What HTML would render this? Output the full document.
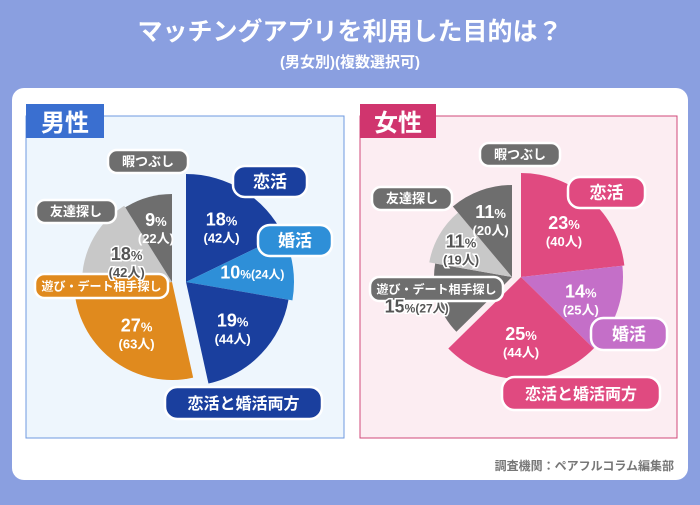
<!DOCTYPE html>
<html><head><meta charset="utf-8">
<style>
html,body{margin:0;padding:0}
body{width:700px;height:500px;background:#8a9fe0;font-family:"Liberation Sans","Noto Sans CJK JP",sans-serif;overflow:hidden}
svg text{font-family:"Liberation Sans","Noto Sans CJK JP",sans-serif;font-weight:bold}
</style></head>
<body>
<svg id="chart" width="700" height="500" viewBox="0 0 700 500" xmlns="http://www.w3.org/2000/svg">
<text x="350" y="40" text-anchor="middle" font-size="25" fill="#fff">マッチングアプリを利用した目的は？</text>
<text x="350" y="67" text-anchor="middle" font-size="15" fill="#fff">(男女別)(複数選択可)</text>
<rect x="12" y="88" width="676" height="392" rx="12" fill="#fff"/>
<rect x="26" y="116" width="318" height="322" fill="#eef6fd" stroke="#6f9ae0" stroke-width="1"/>
<rect x="26" y="104" width="78" height="34" fill="#3a6fd0"/>
<text x="65" y="131" text-anchor="middle" font-size="24" fill="#fff">男性</text>
<rect x="360" y="116" width="317" height="322" fill="#fcedf2" stroke="#d0497a" stroke-width="1"/>
<rect x="360" y="104" width="76" height="34" fill="#d0356e"/>
<text x="398" y="131" text-anchor="middle" font-size="24" fill="#fff">女性</text>
<text x="674" y="470" text-anchor="end" font-size="12" fill="#777">調査機関：ペアフルコラム編集部</text>
<g id="pies"></g>
<g id="pills"></g>
<g id="labels"></g>
</svg>
<script>
const categories = ['恋活','婚活','恋活と婚活両方','遊び・デート相手探し','友達探し','暇つぶし'];
const maleValues = [18,10,19,27,18,9];
const maleCounts = [42,24,44,63,42,22];
const femaleValues = [23,14,25,15,11,11];
const femaleCounts = [40,25,44,27,19,20];
const maleColors = ['#1a3f9e','#2e8fd8','#1a3f9e','#e08a1e','#c8c8c8','#6e6e6e'];
const femaleColors = ['#e04a80','#c46fc8','#e04a80','#6e6e6e','#c8c8c8','#6e6e6e'];
const maleRadii = [108,108,104,98,90,88];
const femaleRadii = [104,102,102,78,84,92];
const maleShift = [0,0,0,-14,-14,-14];
const femaleShift = [0,0,0,-9,-9,-9];
const maleLabelFactor = [0.62,0.62,0.62,0.62,0.56,0.66];
const femaleLabelFactor = [0.62,0.62,0.62,1.28,0.7,0.68];
const maleInline = [false,true,false,false,false,false];
const femaleInline = [false,false,false,true,false,false];
const NS='http://www.w3.org/2000/svg';
const pies=document.getElementById('pies');
const labels=document.getElementById('labels');
function mk(tag,attrs,parent){const e=document.createElementNS(NS,tag);for(const k in attrs)e.setAttribute(k,attrs[k]);parent.appendChild(e);return e;}
function drawPie(prefix,cx0,cy,values,counts,colors,radii,shift,lf,inline){
  const total=values.reduce((a,b)=>a+b,0);
  let a0=0;
  values.forEach((v,i)=>{
    const cx=cx0+shift[i];
    const a1=a0+v/total*2*Math.PI, r=radii[i];
    const x0=cx+r*Math.sin(a0),y0=cy-r*Math.cos(a0),x1=cx+r*Math.sin(a1),y1=cy-r*Math.cos(a1);
    const p=mk('path',{d:`M${cx},${cy}L${x0},${y0}A${r},${r} 0 ${a1-a0>Math.PI?1:0} 1 ${x1},${y1}Z`,fill:colors[i]},pies);
    
    
    const am=(a0+a1)/2, lr=r*lf[i], lx=cx+lr*Math.sin(am), ly=cy-lr*Math.cos(am);
    const light=colors[i]==='#c8c8c8'||(prefix==='female'&&i===3);
    const tc=light?'#555':'#fff';
    const st=light?{stroke:'#fff','stroke-width':3,'paint-order':'stroke'}:{};
    const t=mk('text',Object.assign({x:lx,y:ly,'text-anchor':'middle',fill:tc,'font-size':18},st),labels);
    
    
    if(inline[i]){
      t.setAttribute('y',ly+6);
      t.innerHTML=v+'<tspan font-size="12">%('+counts[i]+'人)</tspan>';
    } else {
      t.innerHTML=v+'<tspan font-size="13">%</tspan>';
      const t2=mk('text',Object.assign({x:lx,y:ly+17,'text-anchor':'middle',fill:tc,'font-size':13},st),labels);
      
      
      t2.textContent='('+counts[i]+'人)';
    }
    a0=a1;
  });
}
drawPie('male',186,282,maleValues,maleCounts,maleColors,maleRadii,maleShift,maleLabelFactor,maleInline);
drawPie('female',521,277,femaleValues,femaleCounts,femaleColors,femaleRadii,femaleShift,femaleLabelFactor,femaleInline);
const pills=document.getElementById('pills');
function pill(name,x,y,w,h,fill,txt,fs){
  const g=mk('g',{},pills);
  
  
  mk('rect',{x:x,y:y,width:w,height:h,rx:h/2.6,fill:fill,stroke:'#fff','stroke-width':2.5},g);
  const t=mk('text',{x:x+w/2,y:y+h/2+fs*0.36,'text-anchor':'middle','font-size':fs,fill:'#fff'},g);
  t.textContent=txt;
}
pill('male-legend-himatsubushi',108,150,80,23,'#6e6e6e','暇つぶし',13);
pill('male-legend-koikatsu',233,166,74,31,'#1a3f9e','恋活',17);
pill('male-legend-konkatsu',258,225,74,31,'#2e8fd8','婚活',17);
pill('male-legend-tomodachi',36,200,80,23,'#6e6e6e','友達探し',13);
pill('male-legend-asobi',35,274,133,24,'#e08a1e','遊び・デート相手探し',12);
pill('male-legend-both',165,387,157,32,'#1a3f9e','恋活と婚活両方',16);
pill('female-legend-himatsubushi',480,143,80,23,'#6e6e6e','暇つぶし',13);
pill('female-legend-koikatsu',568,177,77,31,'#e04a80','恋活',17);
pill('female-legend-tomodachi',372,187,80,23,'#6e6e6e','友達探し',13);
pill('female-legend-asobi',370,277,133,24,'#6e6e6e','遊び・デート相手探し',12);
pill('female-legend-konkatsu',591,318,76,32,'#c46fc8','婚活',17);
pill('female-legend-both',502,377,158,33,'#e04a80','恋活と婚活両方',16);
</script>
</body></html>
